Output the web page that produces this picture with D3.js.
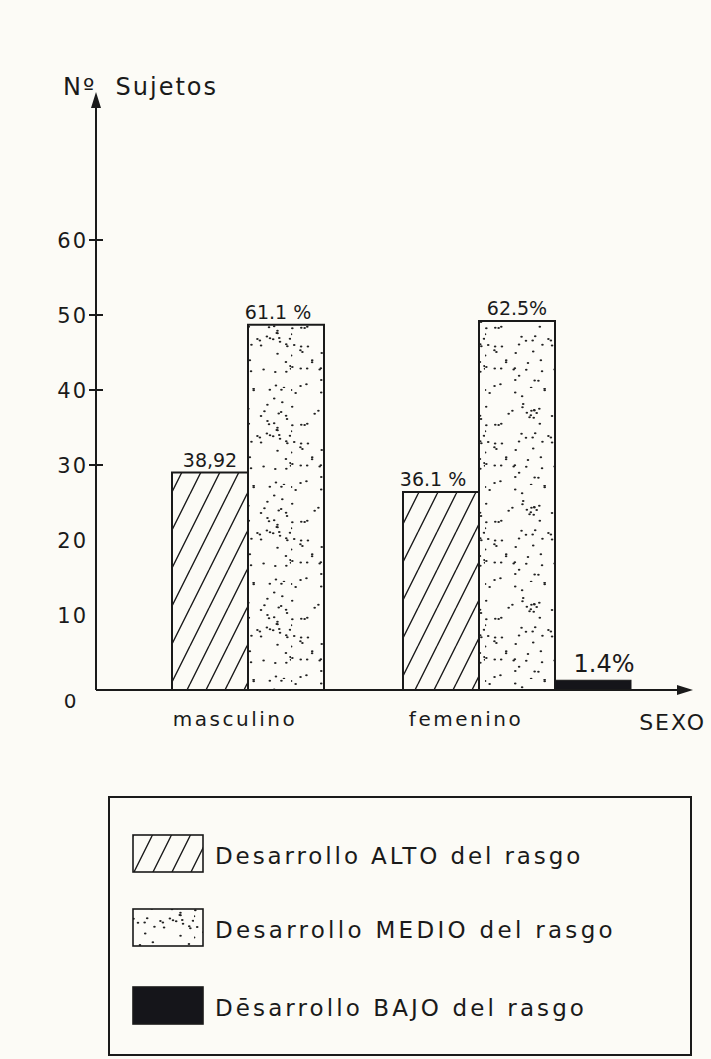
<!DOCTYPE html>
<html><head><meta charset="utf-8">
<script src="https://cdn.jsdelivr.net/npm/d3@7"></script>
<style>
html,body{margin:0;padding:0;background:#fcfbf6;}
text{font-family:"DejaVu Sans",sans-serif;fill:#1a1a1a;}
</style></head>
<body>
<script>
const categories = ["masculino","femenino"];
const series = ["ALTO","MEDIO","BAJO"];
const alto = [29.0, 26.4];
const medio = [48.7, 49.2];
const bajo = [0, 1.3];
const pctLabels = [["38,92","61.1 %",""],["36.1 %","62.5%","1.4%"]];
const yTicks = [0,10,20,30,40,50,60];
const yTickMarks = [30,40,50,60];
const legendLabels = ["Desarrollo ALTO del rasgo","Desarrollo MEDIO del rasgo","Dēsarrollo BAJO del rasgo"];

const W=711,H=1059;
const svg=d3.select("body").append("svg").attr("width",W).attr("height",H);
svg.append("rect").attr("width",W).attr("height",H).attr("fill","#fcfbf6");

const defs=svg.append("defs");
const hp=defs.append("pattern").attr("id","hatch").attr("patternUnits","userSpaceOnUse")
  .attr("width",19).attr("height",38);
hp.append("path").attr("d","M-19,38 L0,0 M0,38 L19,0 M19,38 L38,0").attr("stroke","#1a1a1a").attr("stroke-width",1.4);
const sp=defs.append("pattern").attr("id","dots").attr("patternUnits","userSpaceOnUse")
  .attr("width",97).attr("height",97);
let seed=11;function rnd(){seed=(seed*16807)%2147483647;return seed/2147483647;}
for(let i=0;i<95;i++){sp.append("ellipse").attr("cx",rnd()*97).attr("cy",rnd()*97)
  .attr("rx",1.3).attr("ry",1.0).attr("fill","#222");}

const x0=d3.scaleBand().domain(categories).range([172,634]).paddingInner(0);
const y=d3.scaleLinear().domain([0,60]).range([690,240]);
const groupStart={masculino:172,femenino:403};
const bw=76;
const xs=d3.scaleBand().domain(series).range([0,bw*3]);

const fills={ALTO:"url(#hatch)",MEDIO:"url(#dots)",BAJO:"#15151a"};
const data=categories.map((c,i)=>({c,vals:[alto[i],medio[i],bajo[i]]}));

data.forEach((d,i)=>{
  d.vals.forEach((v,j)=>{
    if(v<=0) return;
    const s=series[j];
    const bx=groupStart[d.c]+xs(s);
    if(s==="MEDIO") svg.append("rect").attr("x",bx).attr("y",y(v)).attr("width",xs.bandwidth()).attr("height",y(0)-y(v)).attr("fill","#fdfcf8");
    svg.append("rect").attr("x",bx).attr("y",y(v)).attr("width",xs.bandwidth()).attr("height",y(0)-y(v))
      .attr("fill",fills[s]).attr("stroke","#1a1a1a").attr("stroke-width",s==="BAJO"?1:2);
    const lbl=pctLabels[i][j];
    if(lbl){
      let dx=0; if(s==="ALTO") dx=(i===0?0:-8); if(s==="MEDIO") dx=(i===0?-8:0); if(s==="BAJO") dx=11;
      svg.append("text").attr("x",bx+xs.bandwidth()/2+dx).attr("y",y(v)-(s==="BAJO"?8:6))
        .attr("text-anchor","middle").attr("font-size",s==="BAJO"?24:19).text(lbl);
    }
  });
  svg.append("text").attr("x",groupStart[d.c]+bw-13).attr("y",726).attr("text-anchor","middle")
    .attr("font-size",20).attr("letter-spacing",2.5).text(d.c);
});

svg.append("line").attr("x1",96).attr("x2",96).attr("y1",y(0)).attr("y2",100).attr("stroke","#1a1a1a").attr("stroke-width",2);
svg.append("path").attr("d","M96,92 L91,108 L101,108 Z").attr("fill","#1a1a1a");
svg.append("line").attr("x1",96).attr("x2",684).attr("y1",y(0)).attr("y2",y(0)).attr("stroke","#1a1a1a").attr("stroke-width",2);
svg.append("path").attr("d","M693,690 L677,685 L677,695 Z").attr("fill","#1a1a1a");

yTicks.forEach(t=>{
  if(t===0){
    svg.append("text").attr("x",70).attr("y",708).attr("text-anchor","middle").attr("font-size",20).text("0");
  } else {
    svg.append("text").attr("x",88).attr("y",y(t)+8).attr("text-anchor","end").attr("font-size",21).attr("letter-spacing",2).text(t);
  }
});
yTickMarks.forEach(t=>{
  svg.append("line").attr("x1",89).attr("x2",103).attr("y1",y(t)).attr("y2",y(t)).attr("stroke","#1a1a1a").attr("stroke-width",2);
});

svg.append("text").attr("x",63).attr("y",95).attr("font-size",24).attr("letter-spacing",2).attr("xml:space","preserve").text("Nº  Sujetos");
svg.append("text").attr("x",706).attr("y",730).attr("text-anchor","end").attr("font-size",22).attr("letter-spacing",2).text("SEXO");

svg.append("rect").attr("x",109).attr("y",797).attr("width",582).attr("height",258).attr("fill","none").attr("stroke","#1a1a1a").attr("stroke-width",2);
const ly=[835,909,987];
series.forEach((s,i)=>{
  if(s==="MEDIO") svg.append("rect").attr("x",133).attr("y",ly[i]).attr("width",70).attr("height",37).attr("fill","#fdfcf8");
  svg.append("rect").attr("x",133).attr("y",ly[i]).attr("width",70).attr("height",37)
    .attr("fill",fills[s]).attr("stroke","#1a1a1a").attr("stroke-width",1.6);
  svg.append("text").attr("x",215).attr("y",ly[i]+29).attr("font-size",23).attr("letter-spacing",[2.9,3.3,3.1][i]).text(legendLabels[i]);
});
</script>
</body></html>
